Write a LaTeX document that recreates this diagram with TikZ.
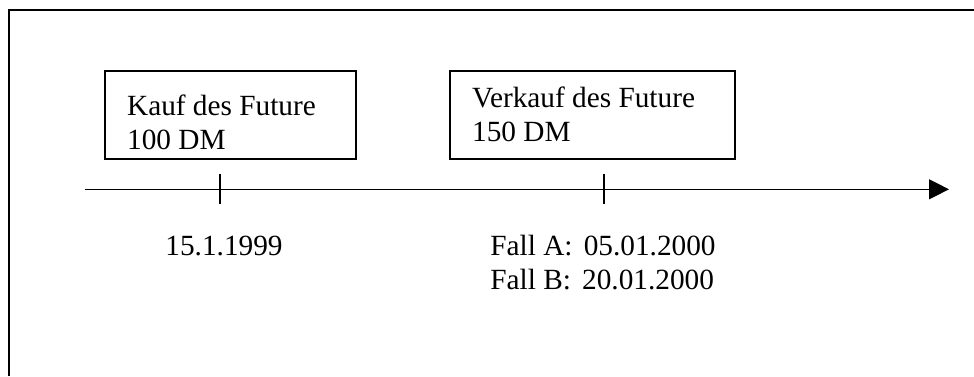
\documentclass[tikz,border=0pt]{standalone}
\usepackage{fontspec}
\setmainfont{Liberation Serif}
\usetikzlibrary{arrows.meta}

\begin{document}
\begin{tikzpicture}[
  x=0.5pt,y=-0.5pt,
  box/.style={draw,line width=0.8pt,minimum height=44pt,inner sep=0pt},
  lbl/.style={anchor=base west,inner sep=0pt,align=left,
    font=\fontsize{14.65}{17}\selectfont},
  tick/.style={line width=0.6pt}]
  \useasboundingbox (0,0) rectangle (974,376);
  % frame
  \draw[line width=1pt] (9,376) |- (974,10);
  % boxes
  \node[box,minimum width=125.5pt] (kauf) at (230.5,115) {};
  \node[box,minimum width=142.5pt] (verkauf) at (592.5,115) {};
  % base = last line
  \node[lbl] (kauftxt) at (126.7,149.3) {Kauf des Future\\100 DM};
  \node[lbl] (verkauftxt) at (471.7,141.7) {Verkauf des Future\\150 DM};
  % time axis
  \coordinate (start) at (85,189.3);
  \coordinate (end) at (949,189.3);
  \draw[line width=0.65pt,-{Triangle[length=10pt,width=10pt]}] (start) -- (end);
  \coordinate (t1) at (220,189.3);
  \coordinate (t2) at (604,189.3);
  \draw[tick] (t1) ++(0,-15) -- ++(0,30);
  \draw[tick] (t2) ++(0,-15) -- ++(0,30);
  % dates
  \node[lbl] (d1) at (165,255.7) {15.1.1999};
  \node[lbl] (d2) at (490,289.3) {Fall A:\hspace{0.38em}05.01.2000\\Fall B:\hspace{0.38em}20.01.2000};
\end{tikzpicture}
\end{document}
